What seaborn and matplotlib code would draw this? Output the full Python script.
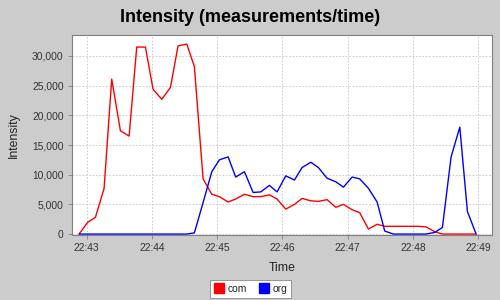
import matplotlib
matplotlib.use("Agg")
import matplotlib.pyplot as plt
import matplotlib.dates as mdates
from matplotlib.ticker import FuncFormatter
from matplotlib.lines import Line2D
import pandas as pd
import seaborn as sns

times = ["22:42:53", "22:43:01", "22:43:08", "22:43:16", "22:43:23", "22:43:31",
         "22:43:39", "22:43:46", "22:43:54", "22:44:01", "22:44:09", "22:44:17",
         "22:44:24", "22:44:32", "22:44:39", "22:44:47", "22:44:55", "22:45:02",
         "22:45:10", "22:45:17", "22:45:25", "22:45:33", "22:45:40", "22:45:48",
         "22:45:55", "22:46:03", "22:46:11", "22:46:18", "22:46:26", "22:46:33",
         "22:46:41", "22:46:49", "22:46:56", "22:47:04", "22:47:11", "22:47:19",
         "22:47:27", "22:47:34", "22:47:42", "22:47:49", "22:47:57", "22:48:05",
         "22:48:12", "22:48:20", "22:48:27", "22:48:35", "22:48:43", "22:48:50",
         "22:48:58"]

com = [0, 2000, 2800, 7700, 26100, 17400, 16500, 31500, 31500, 24400,
       22700, 24700, 31700, 32000, 28200, 9300, 6700, 6300, 5400, 5900,
       6700, 6300, 6300, 6600, 5900, 4200, 5000, 6000, 5600, 5500,
       5800, 4500, 5000, 4100, 3600, 850, 1650, 1300, 1300, 1300,
       1300, 1300, 1200, 400, 0, 0, 0, 0, 0]

org = [0, 0, 0, 0, 0, 0, 0, 0, 0, 0,
       0, 0, 0, 0, 200, 5300, 10500, 12500, 13000, 9600,
       10500, 7000, 7100, 8200, 7100, 9800, 9100, 11200, 12100, 11200,
       9400, 8800, 7900, 9600, 9300, 7700, 5400, 500, 0, 0,
       0, 0, 0, 280, 1100, 13000, 18000, 3800, 0]

series_names = ["com", "org"]
series_colors = ["#ff0000", "#0000ff"]

t = pd.to_datetime(["2000-01-01 " + s for s in times])
df = pd.concat([
    pd.DataFrame({"Time": t, "Intensity": com, "series": "com"}),
    pd.DataFrame({"Time": t, "Intensity": org, "series": "org"}),
])

sns.set_style("white")
plt.rcParams["font.family"] = ["Liberation Sans", "DejaVu Sans"]

bg = "#cccccc"
fig = plt.figure(figsize=(5, 3), dpi=100, facecolor=bg)
ax = fig.add_axes([72 / 500, 1 - 235 / 300, 420 / 500, 200 / 300])
ax.set_facecolor("white")

sns.lineplot(data=df, x="Time", y="Intensity", hue="series",
             palette=dict(zip(series_names, series_colors)),
             linewidth=1.0, ax=ax, legend=False, estimator=None)

ax.set_xlim(pd.Timestamp("2000-01-01 22:42:46.5"), pd.Timestamp("2000-01-01 22:49:12.6"))
ax.set_ylim(-160, 33530)

ax.xaxis.set_major_locator(mdates.MinuteLocator())
ax.xaxis.set_major_formatter(mdates.DateFormatter("%H:%M"))
ax.yaxis.set_major_locator(matplotlib.ticker.MultipleLocator(5000))
ax.yaxis.set_major_formatter(FuncFormatter(lambda v, p: f"{int(v):,}"))

ax.grid(True, color="#c4c4c4", linewidth=0.6, linestyle=(0, (2, 2)))
ax.set_axisbelow(True)
for s in ax.spines.values():
    s.set_color("#808080")
    s.set_linewidth(0.8)

ax.tick_params(axis="both", which="major", direction="out", length=3,
               width=0.6, color="#808080", labelsize=7.4, labelcolor="#333333",
               left=True, bottom=True, pad=3)

ax.set_xlabel("Time", fontsize=8.8, color="#222222")
ax.set_ylabel("Intensity", fontsize=8.8, color="#222222")
ax.xaxis.set_label_coords(0.5, -(262 - 235) / 200)
ax.yaxis.set_label_coords(-(72 - 20) / 420, 0.5)

fig.text(0.5, 1 - 18 / 300, "Intensity (measurements/time)", ha="center",
         va="center", fontsize=13, fontweight="bold", color="black")

handles = [Line2D([], [], marker="s", linestyle="none", markersize=6.5,
                  markerfacecolor=c, markeredgecolor=c) for c in series_colors]
leg = fig.legend(handles, series_names, loc="center",
                 bbox_to_anchor=(250.5 / 500, 1 - 289 / 300), ncol=2,
                 fontsize=7.4, frameon=True, fancybox=False, framealpha=1,
                 edgecolor="#888888", handletextpad=0.3, columnspacing=1.2,
                 borderpad=0.35, handlelength=1.0)
leg.get_frame().set_linewidth(0.6)

fig.savefig("out.png", dpi=100, facecolor=bg)
